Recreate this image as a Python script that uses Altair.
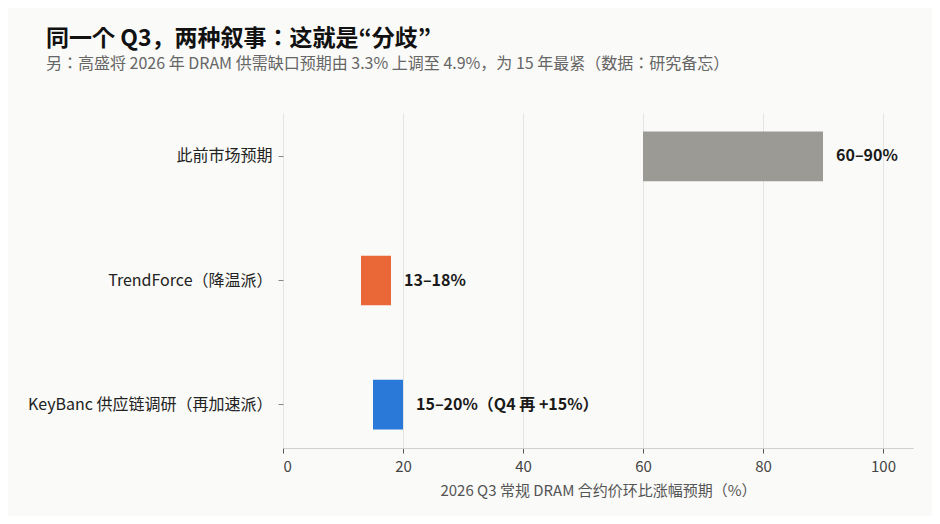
import altair as alt
import pandas as pd

categories = ["此前市场预期", "TrendForce（降温派）", "KeyBanc 供应链调研（再加速派）"]
lows = [60, 13, 15]
highs = [90, 18, 20]
labels = ["60–90%", "13–18%", "15–20%（Q4 再 +15%）"]
colors = ["#9b9a95", "#ea6838", "#2a78d8"]

df = pd.DataFrame({"cat": categories, "lo": lows, "hi": highs, "label": labels, "color": colors})

FONT = "Noto Sans CJK JP"

y_enc = alt.Y("cat:N", sort=categories, title=None,
              scale=alt.Scale(paddingInner=0.6, paddingOuter=0.15),
              axis=alt.Axis(labelFontSize=16, labelColor="#222222", labelFont=FONT,
                            domain=False, ticks=True, tickSize=5, tickColor="#888888",
                            labelPadding=6, grid=False, labelLimit=400))

x_scale = alt.Scale(domain=[0, 105], nice=False)

bars = alt.Chart(df).mark_bar().encode(
    x=alt.X("lo:Q", scale=x_scale, title="2026 Q3 常规 DRAM 合约价环比涨幅预期（%）",
            axis=alt.Axis(values=[0, 20, 40, 60, 80, 100], labelFontSize=15, labelColor="#444444",
                          labelFont=FONT, titleFont=FONT, titleFontSize=15, titleColor="#555555",
                          titleFontWeight="normal", titlePadding=9, domainColor="#cfcfcf",
                          tickColor="#555555", tickSize=5, gridColor="#e4e4e2", labelPadding=6)),
    x2="hi:Q",
    y=y_enc,
    color=alt.Color("color:N", scale=None),
)

text = alt.Chart(df).mark_text(align="left", baseline="middle", dx=13, fontSize=16,
                               fontWeight="bold", font=FONT, color="#1a1a1a").encode(
    x=alt.X("hi:Q", scale=x_scale),
    y=alt.Y("cat:N", sort=categories),
    text="label:N",
)

chart = (bars + text).properties(
    width=630, height=335,
    autosize=alt.AutoSizeParams(type="none"),
    padding={"left": 275, "top": 105, "right": 19, "bottom": 68},
    background="#fafaf8",
    title=alt.TitleParams(
        text="同一个 Q3，两种叙事：这就是“分歧”",
        subtitle="另：高盛将 2026 年 DRAM 供需缺口预期由 3.3% 上调至 4.9%，为 15 年最紧（数据：研究备忘）",
        anchor="start", frame="group", dx=-237, offset=41,
        font=FONT, fontSize=23, fontWeight="bold", color="#111111",
        subtitleFont=FONT, subtitleFontSize=16, subtitleColor="#666666", subtitlePadding=5,
    ),
).configure_view(stroke=None)

chart.save("out.html", embed_options={"renderer": "svg", "actions": False})
